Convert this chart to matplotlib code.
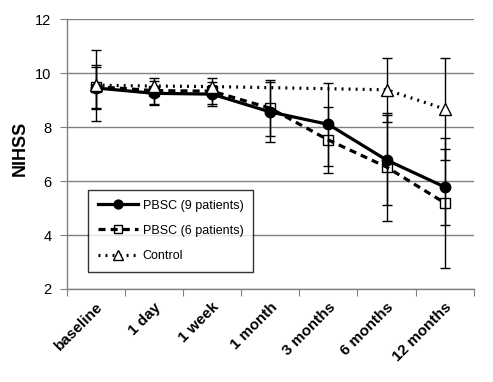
import numpy as np
import matplotlib.pyplot as plt

plt.rcParams['font.family'] = ['Liberation Sans', 'DejaVu Sans']

# data
timepoints = ['baseline', '1 day', '1 week', '1 month', '3 months', '6 months', '12 months']
pbsc9 = [9.45, 9.25, 9.22, 8.56, 8.10, 6.78, 5.78]
pbsc9_err = [0.78, 0.45, 0.45, 1.12, 1.53, 1.66, 1.40]
pbsc6 = [9.50, 9.35, 9.33, 8.70, 7.52, 6.52, 5.19]
pbsc6_err = [0.80, 0.48, 0.48, 1.05, 1.23, 2.00, 2.40]
control = [9.55, 9.52, 9.50, np.nan, np.nan, 9.38, 8.67]
control_err = [1.32, np.nan, np.nan, np.nan, np.nan, 1.18, 1.90]
labels = ['PBSC (9 patients)', 'PBSC (6 patients)', 'Control']


def main():
    fig = plt.figure(figsize=(4.93, 3.82), dpi=100)
    ax = fig.add_axes([0.135, 0.2435, 0.826, 0.7065])

    x = np.arange(len(timepoints))

    # error bars first
    for vals, errs in [(pbsc9, pbsc9_err), (pbsc6, pbsc6_err), (control, control_err)]:
        v = np.array(vals)
        e = np.array(errs)
        ok = ~np.isnan(v) & ~np.isnan(e)
        ax.errorbar(x[ok], v[ok], yerr=e[ok], fmt='none', ecolor='black',
                    elinewidth=1, capsize=3.5, capthick=1, zorder=3)

    ax.plot(x, pbsc9, color='black', lw=2.3, ls='-', marker='o', ms=7.5,
            mfc='black', mec='black', label=labels[0], zorder=4)
    ax.plot(x, pbsc6, color='black', lw=2.3, ls=(0, (2.2, 1.6)), marker='s', ms=7,
            mfc='none', mec='black', mew=1, label=labels[1], zorder=5)
    c = np.array(control)
    ok = ~np.isnan(c)
    ax.plot(x[ok], c[ok], color='black', lw=2.3, ls=(0, (0.6, 1.6)), marker='^', ms=8,
            mfc='white', mec='black', mew=1, label=labels[2], zorder=6)

    ax.set_ylim(2, 12)
    ax.set_yticks([2, 4, 6, 8, 10, 12])
    ax.set_xlim(-0.5, len(timepoints) - 0.5)
    ax.set_xticks(np.arange(len(timepoints) + 1) - 0.5)
    ax.set_xticklabels([])
    ax.set_xticks(x, minor=True)
    ax.set_xticklabels(timepoints, minor=True, rotation=45, ha='right',
                       rotation_mode='anchor', fontsize=11, fontweight='bold')
    ax.tick_params(axis='x', which='minor', length=0, pad=8)
    ax.tick_params(axis='x', which='major', length=5, color='#808080', direction='out')
    ax.tick_params(axis='y', length=5, color='#808080', labelsize=10.5, pad=6)

    ax.grid(axis='y', color='#808080', lw=1)
    ax.set_axisbelow(True)
    for s in ['top', 'right']:
        ax.spines[s].set_visible(False)
    for s in ['left', 'bottom']:
        ax.spines[s].set_color('#808080')
        ax.spines[s].set_linewidth(1)

    ax.set_ylabel('NIHSS', fontsize=13, fontweight='bold')
    ax.yaxis.set_label_coords(-0.092, 0.52)

    leg = ax.legend(loc='lower left', bbox_to_anchor=(0.052, 0.063), fontsize=9,
                    frameon=True, fancybox=False, edgecolor='black',
                    handlelength=3.2, labelspacing=1.05, borderpad=0.8,
                    handletextpad=0.4, borderaxespad=0, markerscale=0.85)
    leg.get_frame().set_linewidth(1)

    plt.savefig('out.png', dpi=100)


if __name__ == '__main__':
    main()
